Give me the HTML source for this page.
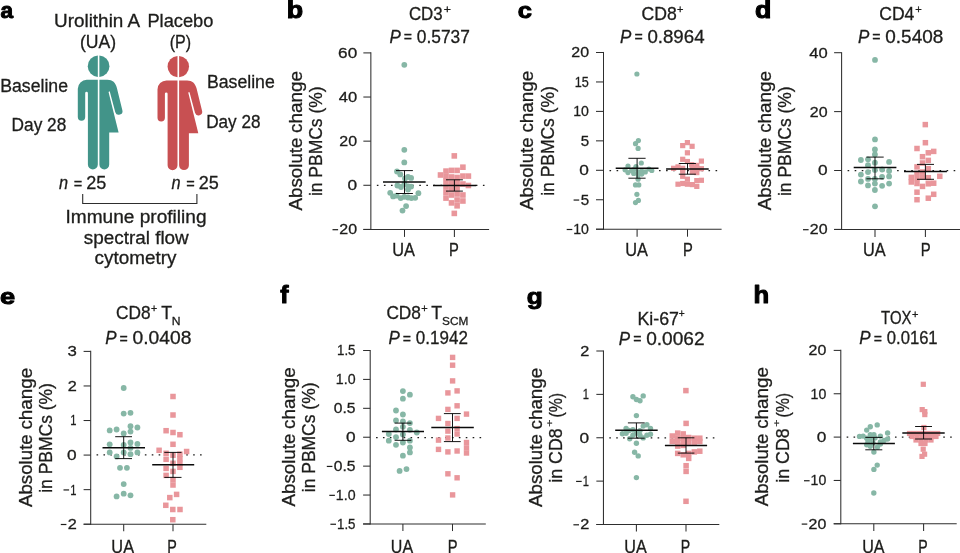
<!DOCTYPE html>
<html><head><meta charset="utf-8"><title>Figure</title>
<style>html,body{margin:0;padding:0;background:#fff;}svg{display:block;font-family:"Liberation Sans",sans-serif;will-change:transform;}text{white-space:pre;}</style></head>
<body>
<svg width="960" height="553" viewBox="0 0 960 553">
<g transform="translate(0 0)" fill="#429489">
<path d="M97.8,55.38 A10.85,10.85 0 0 0 97.8,77.02 Z"/>
<path d="M99.4,55.38 A10.85,10.85 0 0 1 99.4,77.02 Z"/>
<path d="M97.8,79.8 H86.8 A9,9 0 0 0 77.8,88.8 V117.1 A3.7,3.7 0 0 0 85.2,117.1 V93.2 A1.35,1.35 0 0 1 87.9,93.2 V164.6 A4.95,4.95 0 0 0 97.8,164.6 Z"/>
<path d="M99.4,79.8 H107.4 C112.6,79.8 115.6,82.6 116.9,88.0 L122.3,110.0 A3.65,3.65 0 0 1 115.3,112.2 L109.9,92.0 Q109.3,90.6 108.6,92.2 L118.6,132.6 H109.2 V164.6 A4.9,4.9 0 0 1 99.4,164.6 Z"/>
</g>
<g transform="translate(79.7 0.6)" fill="#c85052">
<path d="M97.8,55.28 A10.75,10.75 0 0 0 97.8,76.72 Z"/>
<path d="M99.4,55.28 A10.75,10.75 0 0 1 99.4,76.72 Z"/>
<path d="M97.8,79.8 H86.8 A9,9 0 0 0 77.8,88.8 V117.1 A3.7,3.7 0 0 0 85.2,117.1 V93.2 A1.35,1.35 0 0 1 87.9,93.2 V164.6 A4.95,4.95 0 0 0 97.8,164.6 Z"/>
<path d="M99.4,79.8 H107.4 C112.6,79.8 115.6,82.6 116.9,88.0 L122.3,110.0 A3.65,3.65 0 0 1 115.3,112.2 L109.9,92.0 Q109.3,90.6 108.6,92.2 L118.6,132.6 H109.2 V164.6 A4.9,4.9 0 0 1 99.4,164.6 Z"/>
</g>
<text transform="translate(0.42 18.08) scale(0.9057 0.8945)" font-size="25" font-weight="bold" fill="#000" stroke="#000" stroke-width="1.1" stroke-linejoin="round">a</text>
<text transform="translate(54.04 27.00) scale(1.0741 1.0000)" font-size="17.6" fill="#1d1d1b" stroke="#1d1d1b" stroke-width="0.3">Urolithin A</text>
<text transform="translate(79.99 47.80) scale(1.0009 1.0000)" font-size="17.6" fill="#1d1d1b" stroke="#1d1d1b" stroke-width="0.3">(UA)</text>
<text transform="translate(147.39 27.00) scale(1.0387 1.0000)" font-size="17.6" fill="#1d1d1b" stroke="#1d1d1b" stroke-width="0.3">Placebo</text>
<text transform="translate(169.69 47.80) scale(0.9110 1.0000)" font-size="17.6" fill="#1d1d1b" stroke="#1d1d1b" stroke-width="0.3">(P)</text>
<text transform="translate(0.24 91.90) scale(1.0047 1.0000)" font-size="17.6" fill="#1d1d1b" stroke="#1d1d1b" stroke-width="0.3">Baseline</text>
<text transform="translate(11.57 130.50) scale(0.9812 1.0000)" font-size="17.6" fill="#1d1d1b" stroke="#1d1d1b" stroke-width="0.3">Day 28</text>
<text transform="translate(206.93 88.40) scale(1.0062 1.0000)" font-size="17.6" fill="#1d1d1b" stroke="#1d1d1b" stroke-width="0.3">Baseline</text>
<text transform="translate(206.18 127.80) scale(0.9756 1.0000)" font-size="17.6" fill="#1d1d1b" stroke="#1d1d1b" stroke-width="0.3">Day 28</text>
<text transform="translate(59.02 189.35) scale(0.9276 1.0000)" font-size="17.6" font-style="italic" fill="#1d1d1b" stroke="#1d1d1b" stroke-width="0.3">n</text>
<text transform="translate(73.82 189.37) scale(0.8286 0.9411)" font-size="17.6" fill="#1d1d1b" stroke="#1d1d1b" stroke-width="0.3">=</text>
<text transform="translate(86.15 189.35) scale(1.0250 1.0000)" font-size="17.6" fill="#1d1d1b" stroke="#1d1d1b" stroke-width="0.3">25</text>
<text transform="translate(171.52 189.35) scale(0.9276 1.0000)" font-size="17.6" font-style="italic" fill="#1d1d1b" stroke="#1d1d1b" stroke-width="0.3">n</text>
<text transform="translate(186.32 189.37) scale(0.8286 0.9411)" font-size="17.6" fill="#1d1d1b" stroke="#1d1d1b" stroke-width="0.3">=</text>
<text transform="translate(198.65 189.35) scale(1.0250 1.0000)" font-size="17.6" fill="#1d1d1b" stroke="#1d1d1b" stroke-width="0.3">25</text>
<path d="M82.7,194.0 V203.5 H196.9 V194.0" fill="none" stroke="#2e2e2e" stroke-width="1.1"/>
<text transform="translate(65.53 223.25) scale(1.0846 1.0000)" font-size="17.6" fill="#1d1d1b" stroke="#1d1d1b" stroke-width="0.3">Immune profiling</text>
<text transform="translate(83.78 244.10) scale(1.0737 1.0000)" font-size="17.6" fill="#1d1d1b" stroke="#1d1d1b" stroke-width="0.3">spectral flow</text>
<text transform="translate(94.59 264.20) scale(1.0728 1.0000)" font-size="17.6" fill="#1d1d1b" stroke="#1d1d1b" stroke-width="0.3">cytometry</text>
<line x1="376.85" y1="185.30" x2="484.50" y2="185.30" stroke="#1d1d1b" stroke-width="1.25" stroke-dasharray="1.6 5.47"/>
<circle cx="404.3" cy="64.8" r="2.9" fill="#87b7a6"/>
<circle cx="404.3" cy="149.8" r="2.9" fill="#87b7a6"/>
<circle cx="404.3" cy="162.4" r="2.9" fill="#87b7a6"/>
<circle cx="397.0" cy="171.5" r="2.9" fill="#87b7a6"/>
<circle cx="400.3" cy="174.4" r="2.9" fill="#87b7a6"/>
<circle cx="408.0" cy="176.9" r="2.9" fill="#87b7a6"/>
<circle cx="411.1" cy="177.9" r="2.9" fill="#87b7a6"/>
<circle cx="405.0" cy="178.5" r="2.9" fill="#87b7a6"/>
<circle cx="397.4" cy="185.5" r="2.9" fill="#87b7a6"/>
<circle cx="401.0" cy="187.0" r="2.9" fill="#87b7a6"/>
<circle cx="408.3" cy="186.3" r="2.9" fill="#87b7a6"/>
<circle cx="411.1" cy="186.6" r="2.9" fill="#87b7a6"/>
<circle cx="404.5" cy="184.0" r="2.9" fill="#87b7a6"/>
<circle cx="408.0" cy="189.5" r="2.9" fill="#87b7a6"/>
<circle cx="390.2" cy="192.8" r="2.9" fill="#87b7a6"/>
<circle cx="418.4" cy="193.2" r="2.9" fill="#87b7a6"/>
<circle cx="393.1" cy="196.4" r="2.9" fill="#87b7a6"/>
<circle cx="396.7" cy="195.7" r="2.9" fill="#87b7a6"/>
<circle cx="400.7" cy="198.1" r="2.9" fill="#87b7a6"/>
<circle cx="404.3" cy="196.8" r="2.9" fill="#87b7a6"/>
<circle cx="408.0" cy="197.5" r="2.9" fill="#87b7a6"/>
<circle cx="411.4" cy="198.1" r="2.9" fill="#87b7a6"/>
<circle cx="415.2" cy="197.8" r="2.9" fill="#87b7a6"/>
<circle cx="406.1" cy="206.1" r="2.9" fill="#87b7a6"/>
<circle cx="402.5" cy="210.6" r="2.9" fill="#87b7a6"/>
<rect x="451.50" y="153.10" width="5.6" height="5.6" fill="#e9969b"/>
<rect x="460.10" y="164.40" width="5.6" height="5.6" fill="#e9969b"/>
<rect x="443.20" y="168.30" width="5.6" height="5.6" fill="#e9969b"/>
<rect x="448.70" y="167.60" width="5.6" height="5.6" fill="#e9969b"/>
<rect x="454.30" y="167.60" width="5.6" height="5.6" fill="#e9969b"/>
<rect x="437.70" y="172.20" width="5.6" height="5.6" fill="#e9969b"/>
<rect x="443.20" y="173.70" width="5.6" height="5.6" fill="#e9969b"/>
<rect x="448.70" y="174.20" width="5.6" height="5.6" fill="#e9969b"/>
<rect x="454.30" y="174.70" width="5.6" height="5.6" fill="#e9969b"/>
<rect x="460.10" y="173.30" width="5.6" height="5.6" fill="#e9969b"/>
<rect x="465.60" y="173.30" width="5.6" height="5.6" fill="#e9969b"/>
<rect x="443.20" y="178.70" width="5.6" height="5.6" fill="#e9969b"/>
<rect x="448.70" y="180.20" width="5.6" height="5.6" fill="#e9969b"/>
<rect x="454.30" y="179.70" width="5.6" height="5.6" fill="#e9969b"/>
<rect x="460.10" y="181.20" width="5.6" height="5.6" fill="#e9969b"/>
<rect x="465.60" y="182.70" width="5.6" height="5.6" fill="#e9969b"/>
<rect x="443.20" y="184.20" width="5.6" height="5.6" fill="#e9969b"/>
<rect x="448.70" y="186.20" width="5.6" height="5.6" fill="#e9969b"/>
<rect x="454.30" y="185.20" width="5.6" height="5.6" fill="#e9969b"/>
<rect x="443.20" y="189.70" width="5.6" height="5.6" fill="#e9969b"/>
<rect x="448.70" y="192.20" width="5.6" height="5.6" fill="#e9969b"/>
<rect x="454.30" y="191.20" width="5.6" height="5.6" fill="#e9969b"/>
<rect x="460.10" y="192.20" width="5.6" height="5.6" fill="#e9969b"/>
<rect x="443.20" y="195.30" width="5.6" height="5.6" fill="#e9969b"/>
<rect x="454.30" y="197.20" width="5.6" height="5.6" fill="#e9969b"/>
<rect x="460.10" y="198.20" width="5.6" height="5.6" fill="#e9969b"/>
<rect x="448.70" y="200.10" width="5.6" height="5.6" fill="#e9969b"/>
<rect x="454.30" y="203.00" width="5.6" height="5.6" fill="#e9969b"/>
<rect x="451.50" y="210.60" width="5.6" height="5.6" fill="#e9969b"/>
<line x1="383.00" y1="182.10" x2="425.60" y2="182.10" stroke="#0a0a0a" stroke-width="1.5"/>
<line x1="404.50" y1="170.60" x2="404.50" y2="193.50" stroke="#080808" stroke-width="0.95"/>
<line x1="396.00" y1="170.60" x2="412.90" y2="170.60" stroke="#080808" stroke-width="0.95"/>
<line x1="396.00" y1="193.50" x2="412.90" y2="193.50" stroke="#080808" stroke-width="0.95"/>
<line x1="433.00" y1="185.50" x2="476.20" y2="185.50" stroke="#0a0a0a" stroke-width="1.5"/>
<line x1="454.40" y1="179.80" x2="454.40" y2="191.10" stroke="#080808" stroke-width="0.95"/>
<line x1="446.00" y1="179.80" x2="462.90" y2="179.80" stroke="#080808" stroke-width="0.95"/>
<line x1="446.00" y1="191.10" x2="462.90" y2="191.10" stroke="#080808" stroke-width="0.95"/>
<line x1="370.85" y1="52.35" x2="370.85" y2="229.95" stroke="#2e2e2e" stroke-width="1.05"/>
<line x1="363.35" y1="229.40" x2="489.10" y2="229.40" stroke="#2e2e2e" stroke-width="1.05"/>
<line x1="363.35" y1="52.90" x2="370.85" y2="52.90" stroke="#2e2e2e" stroke-width="1.05"/>
<text transform="translate(338.09 57.80) scale(1.1438 1.0000)" font-size="15.0" fill="#1d1d1b" stroke="#1d1d1b" stroke-width="0.3">60</text>
<line x1="363.35" y1="97.03" x2="370.85" y2="97.03" stroke="#2e2e2e" stroke-width="1.05"/>
<text transform="translate(338.72 101.93) scale(1.1048 1.0000)" font-size="15.0" fill="#1d1d1b" stroke="#1d1d1b" stroke-width="0.3">40</text>
<line x1="363.35" y1="141.15" x2="370.85" y2="141.15" stroke="#2e2e2e" stroke-width="1.05"/>
<text transform="translate(339.35 146.05) scale(1.0654 1.0000)" font-size="15.0" fill="#1d1d1b" stroke="#1d1d1b" stroke-width="0.3">20</text>
<line x1="363.35" y1="185.28" x2="370.85" y2="185.28" stroke="#2e2e2e" stroke-width="1.05"/>
<text transform="translate(347.46 190.18) scale(1.1528 1.0000)" font-size="15.0" fill="#1d1d1b" stroke="#1d1d1b" stroke-width="0.3">0</text>
<line x1="363.35" y1="229.40" x2="370.85" y2="229.40" stroke="#2e2e2e" stroke-width="1.05"/>
<text transform="translate(339.35 234.30) scale(1.0654 1.0000)" font-size="15.0" fill="#1d1d1b" stroke="#1d1d1b" stroke-width="0.3">20</text>
<rect x="332.50" y="229.10" width="5.6" height="1.2" fill="#1d1d1b"/>
<line x1="404.50" y1="229.40" x2="404.50" y2="236.90" stroke="#2e2e2e" stroke-width="1.05"/>
<line x1="454.40" y1="229.40" x2="454.40" y2="236.90" stroke="#2e2e2e" stroke-width="1.05"/>
<text transform="translate(392.14 256.10) scale(0.9282 1.0000)" font-size="17.6" fill="#1d1d1b" stroke="#1d1d1b" stroke-width="0.3">UA</text>
<text transform="translate(449.07 256.10) scale(0.8362 1.0000)" font-size="17.6" fill="#1d1d1b" stroke="#1d1d1b" stroke-width="0.3">P</text>
<text transform="translate(302.00 210.40) rotate(-90) scale(1.0633 1.0000)" font-size="17.6" fill="#1d1d1b" stroke="#1d1d1b" stroke-width="0.3">Absolute</text>
<text transform="translate(302.00 132.90) rotate(-90) scale(1.0698 1.0000)" font-size="17.6" fill="#1d1d1b" stroke="#1d1d1b" stroke-width="0.3">change</text>
<text transform="translate(322.20 196.12) rotate(-90) scale(0.9932 1.0000)" font-size="17.6" fill="#1d1d1b" stroke="#1d1d1b" stroke-width="0.3">in PBMCs (%)</text>
<text transform="translate(408.91 20.20) scale(0.9579 1.0000)" font-size="17.6" fill="#1d1d1b" stroke="#1d1d1b" stroke-width="0.3">CD3</text>
<text transform="translate(443.74 13.26) scale(1.1174 1.0204)" font-size="11" fill="#1d1d1b" stroke="#1d1d1b" stroke-width="0.3">+</text>
<text transform="translate(389.44 42.70) scale(0.9650 1.0000)" font-size="17.6" font-style="italic" fill="#1d1d1b" stroke="#1d1d1b" stroke-width="0.3">P</text>
<text transform="translate(403.84 42.47) scale(0.8049 0.9411)" font-size="17.6" fill="#1d1d1b" stroke="#1d1d1b" stroke-width="0.3">=</text>
<text transform="translate(416.86 42.70) scale(0.9852 1.0000)" font-size="17.6" fill="#1d1d1b" stroke="#1d1d1b" stroke-width="0.3">0.5737</text>
<text transform="translate(286.72 18.10) scale(1.0720 0.9808)" font-size="25" font-weight="bold" fill="#000" stroke="#000" stroke-width="1.1" stroke-linejoin="round">b</text>
<line x1="609.50" y1="170.50" x2="717.15" y2="170.50" stroke="#1d1d1b" stroke-width="1.25" stroke-dasharray="1.6 5.47"/>
<circle cx="636.9" cy="74.0" r="2.6" fill="#87b7a6"/>
<circle cx="638.4" cy="140.6" r="2.6" fill="#87b7a6"/>
<circle cx="635.5" cy="143.7" r="2.6" fill="#87b7a6"/>
<circle cx="638.1" cy="148.4" r="2.6" fill="#87b7a6"/>
<circle cx="641.3" cy="163.0" r="2.6" fill="#87b7a6"/>
<circle cx="628.0" cy="166.1" r="2.6" fill="#87b7a6"/>
<circle cx="625.1" cy="169.8" r="2.6" fill="#87b7a6"/>
<circle cx="628.0" cy="172.6" r="2.6" fill="#87b7a6"/>
<circle cx="631.6" cy="170.5" r="2.6" fill="#87b7a6"/>
<circle cx="634.5" cy="169.0" r="2.6" fill="#87b7a6"/>
<circle cx="638.1" cy="171.9" r="2.6" fill="#87b7a6"/>
<circle cx="641.7" cy="171.2" r="2.6" fill="#87b7a6"/>
<circle cx="645.3" cy="171.9" r="2.6" fill="#87b7a6"/>
<circle cx="648.9" cy="169.0" r="2.6" fill="#87b7a6"/>
<circle cx="651.8" cy="170.5" r="2.6" fill="#87b7a6"/>
<circle cx="633.7" cy="173.4" r="2.6" fill="#87b7a6"/>
<circle cx="638.1" cy="174.8" r="2.6" fill="#87b7a6"/>
<circle cx="641.7" cy="174.1" r="2.6" fill="#87b7a6"/>
<circle cx="638.1" cy="179.2" r="2.6" fill="#87b7a6"/>
<circle cx="635.5" cy="184.9" r="2.6" fill="#87b7a6"/>
<circle cx="638.8" cy="184.9" r="2.6" fill="#87b7a6"/>
<circle cx="636.9" cy="194.3" r="2.6" fill="#87b7a6"/>
<circle cx="638.4" cy="200.4" r="2.6" fill="#87b7a6"/>
<circle cx="635.5" cy="202.6" r="2.6" fill="#87b7a6"/>
<circle cx="636.0" cy="166.5" r="2.6" fill="#87b7a6"/>
<rect x="684.80" y="140.00" width="5.2" height="5.2" fill="#e9969b"/>
<rect x="680.10" y="143.00" width="5.2" height="5.2" fill="#e9969b"/>
<rect x="689.50" y="143.70" width="5.2" height="5.2" fill="#e9969b"/>
<rect x="684.80" y="150.20" width="5.2" height="5.2" fill="#e9969b"/>
<rect x="680.10" y="156.70" width="5.2" height="5.2" fill="#e9969b"/>
<rect x="684.80" y="158.90" width="5.2" height="5.2" fill="#e9969b"/>
<rect x="698.80" y="158.50" width="5.2" height="5.2" fill="#e9969b"/>
<rect x="689.10" y="162.10" width="5.2" height="5.2" fill="#e9969b"/>
<rect x="694.20" y="162.80" width="5.2" height="5.2" fill="#e9969b"/>
<rect x="675.40" y="164.30" width="5.2" height="5.2" fill="#e9969b"/>
<rect x="671.00" y="165.70" width="5.2" height="5.2" fill="#e9969b"/>
<rect x="680.10" y="165.70" width="5.2" height="5.2" fill="#e9969b"/>
<rect x="689.80" y="165.70" width="5.2" height="5.2" fill="#e9969b"/>
<rect x="694.20" y="165.70" width="5.2" height="5.2" fill="#e9969b"/>
<rect x="698.80" y="166.10" width="5.2" height="5.2" fill="#e9969b"/>
<rect x="680.10" y="168.60" width="5.2" height="5.2" fill="#e9969b"/>
<rect x="689.80" y="169.30" width="5.2" height="5.2" fill="#e9969b"/>
<rect x="694.20" y="170.00" width="5.2" height="5.2" fill="#e9969b"/>
<rect x="680.10" y="173.70" width="5.2" height="5.2" fill="#e9969b"/>
<rect x="684.80" y="176.60" width="5.2" height="5.2" fill="#e9969b"/>
<rect x="698.80" y="177.70" width="5.2" height="5.2" fill="#e9969b"/>
<rect x="694.20" y="178.00" width="5.2" height="5.2" fill="#e9969b"/>
<rect x="675.40" y="181.60" width="5.2" height="5.2" fill="#e9969b"/>
<rect x="680.10" y="180.90" width="5.2" height="5.2" fill="#e9969b"/>
<rect x="684.80" y="181.60" width="5.2" height="5.2" fill="#e9969b"/>
<rect x="689.80" y="182.00" width="5.2" height="5.2" fill="#e9969b"/>
<rect x="694.20" y="183.80" width="5.2" height="5.2" fill="#e9969b"/>
<line x1="615.70" y1="168.30" x2="658.50" y2="168.30" stroke="#0a0a0a" stroke-width="1.5"/>
<line x1="637.10" y1="158.30" x2="637.10" y2="178.20" stroke="#080808" stroke-width="0.95"/>
<line x1="628.40" y1="158.30" x2="645.60" y2="158.30" stroke="#080808" stroke-width="0.95"/>
<line x1="628.40" y1="178.20" x2="645.60" y2="178.20" stroke="#080808" stroke-width="0.95"/>
<line x1="666.10" y1="169.00" x2="708.70" y2="169.00" stroke="#0a0a0a" stroke-width="1.5"/>
<line x1="687.50" y1="163.50" x2="687.50" y2="174.20" stroke="#080808" stroke-width="0.95"/>
<line x1="678.80" y1="163.50" x2="695.90" y2="163.50" stroke="#080808" stroke-width="0.95"/>
<line x1="678.80" y1="174.20" x2="695.90" y2="174.20" stroke="#080808" stroke-width="0.95"/>
<line x1="603.50" y1="51.95" x2="603.50" y2="229.75" stroke="#2e2e2e" stroke-width="1.05"/>
<line x1="596.00" y1="229.20" x2="721.60" y2="229.20" stroke="#2e2e2e" stroke-width="1.05"/>
<line x1="596.00" y1="52.50" x2="603.50" y2="52.50" stroke="#2e2e2e" stroke-width="1.05"/>
<text transform="translate(571.25 57.40) scale(1.0654 1.0000)" font-size="15.0" fill="#1d1d1b" stroke="#1d1d1b" stroke-width="0.3">20</text>
<line x1="596.00" y1="81.95" x2="603.50" y2="81.95" stroke="#2e2e2e" stroke-width="1.05"/>
<text transform="translate(574.84 86.85) scale(0.8418 1.0000)" font-size="15.0" fill="#1d1d1b" stroke="#1d1d1b" stroke-width="0.3">15</text>
<line x1="596.00" y1="111.40" x2="603.50" y2="111.40" stroke="#2e2e2e" stroke-width="1.05"/>
<text transform="translate(573.22 116.30) scale(0.9428 1.0000)" font-size="15.0" fill="#1d1d1b" stroke="#1d1d1b" stroke-width="0.3">10</text>
<line x1="596.00" y1="140.85" x2="603.50" y2="140.85" stroke="#2e2e2e" stroke-width="1.05"/>
<text transform="translate(580.65 145.75) scale(1.0071 1.0000)" font-size="15.0" fill="#1d1d1b" stroke="#1d1d1b" stroke-width="0.3">5</text>
<line x1="596.00" y1="170.30" x2="603.50" y2="170.30" stroke="#2e2e2e" stroke-width="1.05"/>
<text transform="translate(579.36 175.20) scale(1.1528 1.0000)" font-size="15.0" fill="#1d1d1b" stroke="#1d1d1b" stroke-width="0.3">0</text>
<line x1="596.00" y1="199.75" x2="603.50" y2="199.75" stroke="#2e2e2e" stroke-width="1.05"/>
<text transform="translate(580.65 204.65) scale(1.0071 1.0000)" font-size="15.0" fill="#1d1d1b" stroke="#1d1d1b" stroke-width="0.3">5</text>
<rect x="573.60" y="199.45" width="5.6" height="1.2" fill="#1d1d1b"/>
<line x1="596.00" y1="229.20" x2="603.50" y2="229.20" stroke="#2e2e2e" stroke-width="1.05"/>
<text transform="translate(573.22 234.10) scale(0.9428 1.0000)" font-size="15.0" fill="#1d1d1b" stroke="#1d1d1b" stroke-width="0.3">10</text>
<rect x="566.70" y="228.90" width="5.6" height="1.2" fill="#1d1d1b"/>
<line x1="637.10" y1="229.20" x2="637.10" y2="236.70" stroke="#2e2e2e" stroke-width="1.05"/>
<line x1="687.50" y1="229.20" x2="687.50" y2="236.70" stroke="#2e2e2e" stroke-width="1.05"/>
<text transform="translate(625.24 256.10) scale(0.9282 1.0000)" font-size="17.6" fill="#1d1d1b" stroke="#1d1d1b" stroke-width="0.3">UA</text>
<text transform="translate(683.07 256.10) scale(0.8362 1.0000)" font-size="17.6" fill="#1d1d1b" stroke="#1d1d1b" stroke-width="0.3">P</text>
<text transform="translate(533.30 210.10) rotate(-90) scale(1.0633 1.0000)" font-size="17.6" fill="#1d1d1b" stroke="#1d1d1b" stroke-width="0.3">Absolute</text>
<text transform="translate(533.30 132.60) rotate(-90) scale(1.0698 1.0000)" font-size="17.6" fill="#1d1d1b" stroke="#1d1d1b" stroke-width="0.3">change</text>
<text transform="translate(553.70 195.82) rotate(-90) scale(0.9932 1.0000)" font-size="17.6" fill="#1d1d1b" stroke="#1d1d1b" stroke-width="0.3">in PBMCs (%)</text>
<text transform="translate(641.57 20.20) scale(1.0010 1.0000)" font-size="17.6" fill="#1d1d1b" stroke="#1d1d1b" stroke-width="0.3">CD8</text>
<text transform="translate(676.90 13.26) scale(1.0038 1.0204)" font-size="11" fill="#1d1d1b" stroke="#1d1d1b" stroke-width="0.3">+</text>
<text transform="translate(620.04 42.70) scale(0.9650 1.0000)" font-size="17.6" font-style="italic" fill="#1d1d1b" stroke="#1d1d1b" stroke-width="0.3">P</text>
<text transform="translate(634.44 42.47) scale(0.8049 0.9411)" font-size="17.6" fill="#1d1d1b" stroke="#1d1d1b" stroke-width="0.3">=</text>
<text transform="translate(647.40 42.70) scale(1.0623 1.0000)" font-size="17.6" fill="#1d1d1b" stroke="#1d1d1b" stroke-width="0.3">0.8964</text>
<text transform="translate(517.78 18.07) scale(1.0204 0.9091)" font-size="25" font-weight="bold" fill="#000" stroke="#000" stroke-width="1.1" stroke-linejoin="round">c</text>
<line x1="847.60" y1="170.60" x2="955.25" y2="170.60" stroke="#1d1d1b" stroke-width="1.25" stroke-dasharray="1.6 5.47"/>
<circle cx="875.0" cy="59.9" r="2.9" fill="#87b7a6"/>
<circle cx="875.0" cy="139.4" r="2.9" fill="#87b7a6"/>
<circle cx="874.9" cy="149.5" r="2.9" fill="#87b7a6"/>
<circle cx="874.9" cy="154.5" r="2.9" fill="#87b7a6"/>
<circle cx="860.9" cy="160.0" r="2.9" fill="#87b7a6"/>
<circle cx="868.0" cy="159.3" r="2.9" fill="#87b7a6"/>
<circle cx="889.1" cy="161.9" r="2.9" fill="#87b7a6"/>
<circle cx="874.9" cy="162.7" r="2.9" fill="#87b7a6"/>
<circle cx="868.0" cy="165.2" r="2.9" fill="#87b7a6"/>
<circle cx="882.1" cy="169.5" r="2.9" fill="#87b7a6"/>
<circle cx="889.1" cy="171.0" r="2.9" fill="#87b7a6"/>
<circle cx="874.9" cy="169.9" r="2.9" fill="#87b7a6"/>
<circle cx="868.0" cy="172.1" r="2.9" fill="#87b7a6"/>
<circle cx="860.9" cy="174.6" r="2.9" fill="#87b7a6"/>
<circle cx="889.1" cy="176.4" r="2.9" fill="#87b7a6"/>
<circle cx="882.1" cy="176.8" r="2.9" fill="#87b7a6"/>
<circle cx="868.0" cy="178.9" r="2.9" fill="#87b7a6"/>
<circle cx="874.9" cy="178.9" r="2.9" fill="#87b7a6"/>
<circle cx="860.9" cy="181.5" r="2.9" fill="#87b7a6"/>
<circle cx="874.9" cy="183.6" r="2.9" fill="#87b7a6"/>
<circle cx="889.1" cy="183.6" r="2.9" fill="#87b7a6"/>
<circle cx="868.0" cy="185.4" r="2.9" fill="#87b7a6"/>
<circle cx="882.1" cy="185.8" r="2.9" fill="#87b7a6"/>
<circle cx="874.9" cy="190.0" r="2.9" fill="#87b7a6"/>
<circle cx="875.0" cy="206.3" r="2.9" fill="#87b7a6"/>
<rect x="922.55" y="121.85" width="5.5" height="5.5" fill="#e9969b"/>
<rect x="922.65" y="139.95" width="5.5" height="5.5" fill="#e9969b"/>
<rect x="914.25" y="145.75" width="5.5" height="5.5" fill="#e9969b"/>
<rect x="930.95" y="148.65" width="5.5" height="5.5" fill="#e9969b"/>
<rect x="925.55" y="150.05" width="5.5" height="5.5" fill="#e9969b"/>
<rect x="919.75" y="153.95" width="5.5" height="5.5" fill="#e9969b"/>
<rect x="925.55" y="157.65" width="5.5" height="5.5" fill="#e9969b"/>
<rect x="919.75" y="160.25" width="5.5" height="5.5" fill="#e9969b"/>
<rect x="914.25" y="164.15" width="5.5" height="5.5" fill="#e9969b"/>
<rect x="925.55" y="165.95" width="5.5" height="5.5" fill="#e9969b"/>
<rect x="919.75" y="169.25" width="5.5" height="5.5" fill="#e9969b"/>
<rect x="914.25" y="170.65" width="5.5" height="5.5" fill="#e9969b"/>
<rect x="937.05" y="173.55" width="5.5" height="5.5" fill="#e9969b"/>
<rect x="908.55" y="174.65" width="5.5" height="5.5" fill="#e9969b"/>
<rect x="908.55" y="179.25" width="5.5" height="5.5" fill="#e9969b"/>
<rect x="914.25" y="175.65" width="5.5" height="5.5" fill="#e9969b"/>
<rect x="914.25" y="180.75" width="5.5" height="5.5" fill="#e9969b"/>
<rect x="919.75" y="174.25" width="5.5" height="5.5" fill="#e9969b"/>
<rect x="919.75" y="183.65" width="5.5" height="5.5" fill="#e9969b"/>
<rect x="925.55" y="174.95" width="5.5" height="5.5" fill="#e9969b"/>
<rect x="925.55" y="181.05" width="5.5" height="5.5" fill="#e9969b"/>
<rect x="930.95" y="180.45" width="5.5" height="5.5" fill="#e9969b"/>
<rect x="914.25" y="189.45" width="5.5" height="5.5" fill="#e9969b"/>
<rect x="930.95" y="191.55" width="5.5" height="5.5" fill="#e9969b"/>
<rect x="925.55" y="195.45" width="5.5" height="5.5" fill="#e9969b"/>
<rect x="914.25" y="196.95" width="5.5" height="5.5" fill="#e9969b"/>
<line x1="853.70" y1="167.60" x2="896.40" y2="167.60" stroke="#0a0a0a" stroke-width="1.5"/>
<line x1="875.00" y1="157.10" x2="875.00" y2="178.80" stroke="#080808" stroke-width="0.95"/>
<line x1="866.40" y1="157.10" x2="883.70" y2="157.10" stroke="#080808" stroke-width="0.95"/>
<line x1="866.40" y1="178.80" x2="883.70" y2="178.80" stroke="#080808" stroke-width="0.95"/>
<line x1="904.00" y1="171.40" x2="946.90" y2="171.40" stroke="#0a0a0a" stroke-width="1.5"/>
<line x1="925.40" y1="164.40" x2="925.40" y2="179.30" stroke="#080808" stroke-width="0.95"/>
<line x1="917.00" y1="164.40" x2="934.00" y2="164.40" stroke="#080808" stroke-width="0.95"/>
<line x1="917.00" y1="179.30" x2="934.00" y2="179.30" stroke="#080808" stroke-width="0.95"/>
<line x1="841.60" y1="52.15" x2="841.60" y2="229.95" stroke="#2e2e2e" stroke-width="1.05"/>
<line x1="834.10" y1="229.40" x2="960.00" y2="229.40" stroke="#2e2e2e" stroke-width="1.05"/>
<line x1="834.10" y1="52.70" x2="841.60" y2="52.70" stroke="#2e2e2e" stroke-width="1.05"/>
<text transform="translate(809.22 57.60) scale(1.1048 1.0000)" font-size="15.0" fill="#1d1d1b" stroke="#1d1d1b" stroke-width="0.3">40</text>
<line x1="834.10" y1="111.60" x2="841.60" y2="111.60" stroke="#2e2e2e" stroke-width="1.05"/>
<text transform="translate(809.85 116.50) scale(1.0654 1.0000)" font-size="15.0" fill="#1d1d1b" stroke="#1d1d1b" stroke-width="0.3">20</text>
<line x1="834.10" y1="170.50" x2="841.60" y2="170.50" stroke="#2e2e2e" stroke-width="1.05"/>
<text transform="translate(817.96 175.40) scale(1.1528 1.0000)" font-size="15.0" fill="#1d1d1b" stroke="#1d1d1b" stroke-width="0.3">0</text>
<line x1="834.10" y1="229.40" x2="841.60" y2="229.40" stroke="#2e2e2e" stroke-width="1.05"/>
<text transform="translate(809.85 234.30) scale(1.0654 1.0000)" font-size="15.0" fill="#1d1d1b" stroke="#1d1d1b" stroke-width="0.3">20</text>
<rect x="803.00" y="229.10" width="5.6" height="1.2" fill="#1d1d1b"/>
<line x1="875.00" y1="229.40" x2="875.00" y2="236.90" stroke="#2e2e2e" stroke-width="1.05"/>
<line x1="925.40" y1="229.40" x2="925.40" y2="236.90" stroke="#2e2e2e" stroke-width="1.05"/>
<text transform="translate(863.04 256.10) scale(0.9282 1.0000)" font-size="17.6" fill="#1d1d1b" stroke="#1d1d1b" stroke-width="0.3">UA</text>
<text transform="translate(920.76 256.10) scale(0.8469 1.0000)" font-size="17.6" fill="#1d1d1b" stroke="#1d1d1b" stroke-width="0.3">P</text>
<text transform="translate(770.60 210.30) rotate(-90) scale(1.0633 1.0000)" font-size="17.6" fill="#1d1d1b" stroke="#1d1d1b" stroke-width="0.3">Absolute</text>
<text transform="translate(770.60 132.80) rotate(-90) scale(1.0698 1.0000)" font-size="17.6" fill="#1d1d1b" stroke="#1d1d1b" stroke-width="0.3">change</text>
<text transform="translate(790.90 196.02) rotate(-90) scale(0.9932 1.0000)" font-size="17.6" fill="#1d1d1b" stroke="#1d1d1b" stroke-width="0.3">in PBMCs (%)</text>
<text transform="translate(879.27 20.20) scale(0.9973 1.0000)" font-size="17.6" fill="#1d1d1b" stroke="#1d1d1b" stroke-width="0.3">CD4</text>
<text transform="translate(915.19 13.26) scale(1.0133 1.0204)" font-size="11" fill="#1d1d1b" stroke="#1d1d1b" stroke-width="0.3">+</text>
<text transform="translate(857.94 42.70) scale(0.9650 1.0000)" font-size="17.6" font-style="italic" fill="#1d1d1b" stroke="#1d1d1b" stroke-width="0.3">P</text>
<text transform="translate(872.34 42.47) scale(0.8049 0.9411)" font-size="17.6" fill="#1d1d1b" stroke="#1d1d1b" stroke-width="0.3">=</text>
<text transform="translate(885.29 42.70) scale(1.0771 1.0000)" font-size="17.6" fill="#1d1d1b" stroke="#1d1d1b" stroke-width="0.3">0.5408</text>
<text transform="translate(754.93 18.10) scale(1.0720 0.9808)" font-size="25" font-weight="bold" fill="#000" stroke="#000" stroke-width="1.1" stroke-linejoin="round">d</text>
<line x1="96.55" y1="454.90" x2="201.65" y2="454.90" stroke="#1d1d1b" stroke-width="1.25" stroke-dasharray="1.6 5.30"/>
<circle cx="123.7" cy="388.0" r="2.9" fill="#87b7a6"/>
<circle cx="123.7" cy="413.6" r="2.9" fill="#87b7a6"/>
<circle cx="130.5" cy="412.8" r="2.9" fill="#87b7a6"/>
<circle cx="130.5" cy="426.2" r="2.9" fill="#87b7a6"/>
<circle cx="137.4" cy="427.5" r="2.9" fill="#87b7a6"/>
<circle cx="109.7" cy="430.4" r="2.9" fill="#87b7a6"/>
<circle cx="116.6" cy="429.5" r="2.9" fill="#87b7a6"/>
<circle cx="123.7" cy="433.5" r="2.9" fill="#87b7a6"/>
<circle cx="130.5" cy="431.6" r="2.9" fill="#87b7a6"/>
<circle cx="130.5" cy="442.5" r="2.9" fill="#87b7a6"/>
<circle cx="109.7" cy="444.3" r="2.9" fill="#87b7a6"/>
<circle cx="123.7" cy="444.8" r="2.9" fill="#87b7a6"/>
<circle cx="137.4" cy="443.9" r="2.9" fill="#87b7a6"/>
<circle cx="130.5" cy="447.9" r="2.9" fill="#87b7a6"/>
<circle cx="109.7" cy="452.4" r="2.9" fill="#87b7a6"/>
<circle cx="123.7" cy="452.4" r="2.9" fill="#87b7a6"/>
<circle cx="137.4" cy="452.4" r="2.9" fill="#87b7a6"/>
<circle cx="116.6" cy="456.4" r="2.9" fill="#87b7a6"/>
<circle cx="130.5" cy="454.2" r="2.9" fill="#87b7a6"/>
<circle cx="120.0" cy="467.8" r="2.9" fill="#87b7a6"/>
<circle cx="126.9" cy="467.8" r="2.9" fill="#87b7a6"/>
<circle cx="123.7" cy="484.1" r="2.9" fill="#87b7a6"/>
<circle cx="116.6" cy="496.4" r="2.9" fill="#87b7a6"/>
<circle cx="123.7" cy="493.7" r="2.9" fill="#87b7a6"/>
<circle cx="130.5" cy="495.3" r="2.9" fill="#87b7a6"/>
<rect x="170.25" y="393.75" width="5.5" height="5.5" fill="#e9969b"/>
<rect x="170.25" y="412.25" width="5.5" height="5.5" fill="#e9969b"/>
<rect x="163.35" y="427.95" width="5.5" height="5.5" fill="#e9969b"/>
<rect x="170.25" y="429.75" width="5.5" height="5.5" fill="#e9969b"/>
<rect x="177.15" y="431.95" width="5.5" height="5.5" fill="#e9969b"/>
<rect x="170.25" y="441.55" width="5.5" height="5.5" fill="#e9969b"/>
<rect x="156.35" y="447.55" width="5.5" height="5.5" fill="#e9969b"/>
<rect x="183.85" y="448.75" width="5.5" height="5.5" fill="#e9969b"/>
<rect x="163.35" y="450.55" width="5.5" height="5.5" fill="#e9969b"/>
<rect x="170.25" y="452.45" width="5.5" height="5.5" fill="#e9969b"/>
<rect x="177.15" y="451.45" width="5.5" height="5.5" fill="#e9969b"/>
<rect x="163.35" y="456.55" width="5.5" height="5.5" fill="#e9969b"/>
<rect x="177.15" y="456.05" width="5.5" height="5.5" fill="#e9969b"/>
<rect x="170.25" y="460.55" width="5.5" height="5.5" fill="#e9969b"/>
<rect x="177.15" y="460.55" width="5.5" height="5.5" fill="#e9969b"/>
<rect x="163.35" y="465.65" width="5.5" height="5.5" fill="#e9969b"/>
<rect x="177.15" y="464.55" width="5.5" height="5.5" fill="#e9969b"/>
<rect x="170.25" y="468.65" width="5.5" height="5.5" fill="#e9969b"/>
<rect x="163.35" y="472.65" width="5.5" height="5.5" fill="#e9969b"/>
<rect x="170.25" y="476.85" width="5.5" height="5.5" fill="#e9969b"/>
<rect x="170.25" y="482.25" width="5.5" height="5.5" fill="#e9969b"/>
<rect x="173.85" y="491.65" width="5.5" height="5.5" fill="#e9969b"/>
<rect x="167.05" y="494.85" width="5.5" height="5.5" fill="#e9969b"/>
<rect x="163.05" y="502.55" width="5.5" height="5.5" fill="#e9969b"/>
<rect x="170.05" y="506.75" width="5.5" height="5.5" fill="#e9969b"/>
<rect x="177.25" y="506.75" width="5.5" height="5.5" fill="#e9969b"/>
<rect x="170.05" y="516.95" width="5.5" height="5.5" fill="#e9969b"/>
<line x1="102.50" y1="447.70" x2="145.00" y2="447.70" stroke="#0a0a0a" stroke-width="1.5"/>
<line x1="123.70" y1="436.70" x2="123.70" y2="458.60" stroke="#080808" stroke-width="0.95"/>
<line x1="115.20" y1="436.70" x2="132.00" y2="436.70" stroke="#080808" stroke-width="0.95"/>
<line x1="115.20" y1="458.60" x2="132.00" y2="458.60" stroke="#080808" stroke-width="0.95"/>
<line x1="152.20" y1="464.70" x2="194.20" y2="464.70" stroke="#0a0a0a" stroke-width="1.5"/>
<line x1="173.00" y1="452.40" x2="173.00" y2="477.40" stroke="#080808" stroke-width="0.95"/>
<line x1="164.30" y1="452.40" x2="181.50" y2="452.40" stroke="#080808" stroke-width="0.95"/>
<line x1="164.30" y1="477.40" x2="181.50" y2="477.40" stroke="#080808" stroke-width="0.95"/>
<line x1="90.70" y1="350.85" x2="90.70" y2="524.75" stroke="#2e2e2e" stroke-width="1.05"/>
<line x1="83.60" y1="524.20" x2="206.30" y2="524.20" stroke="#2e2e2e" stroke-width="1.05"/>
<line x1="83.60" y1="351.40" x2="90.70" y2="351.40" stroke="#2e2e2e" stroke-width="1.05"/>
<text transform="translate(67.38 356.30) scale(1.1206 1.0000)" font-size="15.0" fill="#1d1d1b" stroke="#1d1d1b" stroke-width="0.3">3</text>
<line x1="83.60" y1="385.96" x2="90.70" y2="385.96" stroke="#2e2e2e" stroke-width="1.05"/>
<text transform="translate(67.63 390.86) scale(1.0870 1.0000)" font-size="15.0" fill="#1d1d1b" stroke="#1d1d1b" stroke-width="0.3">2</text>
<line x1="83.60" y1="420.52" x2="90.70" y2="420.52" stroke="#2e2e2e" stroke-width="1.05"/>
<text transform="translate(70.26 425.42) scale(0.7442 1.0000)" font-size="15.0" fill="#1d1d1b" stroke="#1d1d1b" stroke-width="0.3">1</text>
<line x1="83.60" y1="455.08" x2="90.70" y2="455.08" stroke="#2e2e2e" stroke-width="1.05"/>
<text transform="translate(66.96 459.98) scale(1.1528 1.0000)" font-size="15.0" fill="#1d1d1b" stroke="#1d1d1b" stroke-width="0.3">0</text>
<line x1="83.60" y1="489.64" x2="90.70" y2="489.64" stroke="#2e2e2e" stroke-width="1.05"/>
<text transform="translate(70.26 494.54) scale(0.7442 1.0000)" font-size="15.0" fill="#1d1d1b" stroke="#1d1d1b" stroke-width="0.3">1</text>
<rect x="63.50" y="489.34" width="5.6" height="1.2" fill="#1d1d1b"/>
<line x1="83.60" y1="524.20" x2="90.70" y2="524.20" stroke="#2e2e2e" stroke-width="1.05"/>
<text transform="translate(67.63 529.10) scale(1.0870 1.0000)" font-size="15.0" fill="#1d1d1b" stroke="#1d1d1b" stroke-width="0.3">2</text>
<rect x="60.80" y="523.90" width="5.6" height="1.2" fill="#1d1d1b"/>
<line x1="123.70" y1="524.20" x2="123.70" y2="531.30" stroke="#2e2e2e" stroke-width="1.05"/>
<line x1="173.00" y1="524.20" x2="173.00" y2="531.30" stroke="#2e2e2e" stroke-width="1.05"/>
<text transform="translate(111.34 552.80) scale(0.9282 1.0000)" font-size="17.6" fill="#1d1d1b" stroke="#1d1d1b" stroke-width="0.3">UA</text>
<text transform="translate(167.30 552.80) scale(0.8148 1.0000)" font-size="17.6" fill="#1d1d1b" stroke="#1d1d1b" stroke-width="0.3">P</text>
<text transform="translate(31.70 507.05) rotate(-90) scale(1.0633 1.0000)" font-size="17.6" fill="#1d1d1b" stroke="#1d1d1b" stroke-width="0.3">Absolute</text>
<text transform="translate(31.70 429.55) rotate(-90) scale(1.0698 1.0000)" font-size="17.6" fill="#1d1d1b" stroke="#1d1d1b" stroke-width="0.3">change</text>
<text transform="translate(52.20 492.77) rotate(-90) scale(0.9932 1.0000)" font-size="17.6" fill="#1d1d1b" stroke="#1d1d1b" stroke-width="0.3">in PBMCs (%)</text>
<text transform="translate(115.99 319.40) scale(0.9817 1.0000)" font-size="17.6" fill="#1d1d1b" stroke="#1d1d1b" stroke-width="0.3">CD8</text>
<text transform="translate(151.12 312.02) scale(0.9659 0.9833)" font-size="11" fill="#1d1d1b" stroke="#1d1d1b" stroke-width="0.3">+</text>
<text transform="translate(161.30 319.40) scale(1.0068 1.0000)" font-size="17.6" fill="#1d1d1b" stroke="#1d1d1b" stroke-width="0.3">T</text>
<text transform="translate(171.68 324.60) scale(1.0379 1.0000)" font-size="11.7" fill="#1d1d1b" stroke="#1d1d1b" stroke-width="0.3">N</text>
<text transform="translate(105.14 344.40) scale(0.9650 1.0000)" font-size="17.6" font-style="italic" fill="#1d1d1b" stroke="#1d1d1b" stroke-width="0.3">P</text>
<text transform="translate(119.54 344.17) scale(0.8049 0.9411)" font-size="17.6" fill="#1d1d1b" stroke="#1d1d1b" stroke-width="0.3">=</text>
<text transform="translate(132.48 344.40) scale(1.0943 1.0000)" font-size="17.6" fill="#1d1d1b" stroke="#1d1d1b" stroke-width="0.3">0.0408</text>
<text transform="translate(-0.04 303.77) scale(1.0875 0.9164)" font-size="25" font-weight="bold" fill="#000" stroke="#000" stroke-width="1.1" stroke-linejoin="round">e</text>
<line x1="376.05" y1="437.50" x2="481.15" y2="437.50" stroke="#1d1d1b" stroke-width="1.25" stroke-dasharray="1.6 5.30"/>
<circle cx="402.9" cy="391.1" r="2.9" fill="#87b7a6"/>
<circle cx="409.9" cy="394.7" r="2.9" fill="#87b7a6"/>
<circle cx="402.9" cy="398.7" r="2.9" fill="#87b7a6"/>
<circle cx="396.0" cy="410.5" r="2.9" fill="#87b7a6"/>
<circle cx="402.9" cy="414.5" r="2.9" fill="#87b7a6"/>
<circle cx="396.0" cy="420.4" r="2.9" fill="#87b7a6"/>
<circle cx="402.9" cy="421.3" r="2.9" fill="#87b7a6"/>
<circle cx="409.9" cy="423.1" r="2.9" fill="#87b7a6"/>
<circle cx="402.9" cy="426.8" r="2.9" fill="#87b7a6"/>
<circle cx="396.0" cy="429.5" r="2.9" fill="#87b7a6"/>
<circle cx="409.9" cy="429.8" r="2.9" fill="#87b7a6"/>
<circle cx="416.8" cy="432.5" r="2.9" fill="#87b7a6"/>
<circle cx="388.8" cy="434.0" r="2.9" fill="#87b7a6"/>
<circle cx="402.9" cy="434.4" r="2.9" fill="#87b7a6"/>
<circle cx="396.0" cy="437.1" r="2.9" fill="#87b7a6"/>
<circle cx="388.8" cy="440.7" r="2.9" fill="#87b7a6"/>
<circle cx="409.9" cy="440.7" r="2.9" fill="#87b7a6"/>
<circle cx="402.9" cy="442.5" r="2.9" fill="#87b7a6"/>
<circle cx="396.0" cy="444.8" r="2.9" fill="#87b7a6"/>
<circle cx="409.9" cy="447.4" r="2.9" fill="#87b7a6"/>
<circle cx="409.9" cy="452.4" r="2.9" fill="#87b7a6"/>
<circle cx="402.9" cy="455.7" r="2.9" fill="#87b7a6"/>
<circle cx="406.5" cy="469.1" r="2.9" fill="#87b7a6"/>
<circle cx="399.6" cy="470.9" r="2.9" fill="#87b7a6"/>
<rect x="449.90" y="354.70" width="5.4" height="5.4" fill="#e9969b"/>
<rect x="449.90" y="362.50" width="5.4" height="5.4" fill="#e9969b"/>
<rect x="449.90" y="378.20" width="5.4" height="5.4" fill="#e9969b"/>
<rect x="445.20" y="390.20" width="5.4" height="5.4" fill="#e9969b"/>
<rect x="454.40" y="388.20" width="5.4" height="5.4" fill="#e9969b"/>
<rect x="454.40" y="403.10" width="5.4" height="5.4" fill="#e9969b"/>
<rect x="445.20" y="406.70" width="5.4" height="5.4" fill="#e9969b"/>
<rect x="463.80" y="411.40" width="5.4" height="5.4" fill="#e9969b"/>
<rect x="435.80" y="415.70" width="5.4" height="5.4" fill="#e9969b"/>
<rect x="454.40" y="415.70" width="5.4" height="5.4" fill="#e9969b"/>
<rect x="445.20" y="420.80" width="5.4" height="5.4" fill="#e9969b"/>
<rect x="454.40" y="425.90" width="5.4" height="5.4" fill="#e9969b"/>
<rect x="445.20" y="428.40" width="5.4" height="5.4" fill="#e9969b"/>
<rect x="454.40" y="431.30" width="5.4" height="5.4" fill="#e9969b"/>
<rect x="445.20" y="435.30" width="5.4" height="5.4" fill="#e9969b"/>
<rect x="435.80" y="437.40" width="5.4" height="5.4" fill="#e9969b"/>
<rect x="463.80" y="439.80" width="5.4" height="5.4" fill="#e9969b"/>
<rect x="463.80" y="445.20" width="5.4" height="5.4" fill="#e9969b"/>
<rect x="435.80" y="446.70" width="5.4" height="5.4" fill="#e9969b"/>
<rect x="445.20" y="449.20" width="5.4" height="5.4" fill="#e9969b"/>
<rect x="454.40" y="448.30" width="5.4" height="5.4" fill="#e9969b"/>
<rect x="463.80" y="450.30" width="5.4" height="5.4" fill="#e9969b"/>
<rect x="445.20" y="471.10" width="5.4" height="5.4" fill="#e9969b"/>
<rect x="454.40" y="475.10" width="5.4" height="5.4" fill="#e9969b"/>
<rect x="449.90" y="492.20" width="5.4" height="5.4" fill="#e9969b"/>
<line x1="381.90" y1="431.60" x2="424.00" y2="431.60" stroke="#0a0a0a" stroke-width="1.5"/>
<line x1="402.90" y1="423.10" x2="402.90" y2="440.30" stroke="#080808" stroke-width="0.95"/>
<line x1="394.60" y1="423.10" x2="411.40" y2="423.10" stroke="#080808" stroke-width="0.95"/>
<line x1="394.60" y1="440.30" x2="411.40" y2="440.30" stroke="#080808" stroke-width="0.95"/>
<line x1="431.30" y1="427.50" x2="473.80" y2="427.50" stroke="#0a0a0a" stroke-width="1.5"/>
<line x1="452.50" y1="413.60" x2="452.50" y2="441.60" stroke="#080808" stroke-width="0.95"/>
<line x1="443.90" y1="413.60" x2="460.70" y2="413.60" stroke="#080808" stroke-width="0.95"/>
<line x1="443.90" y1="441.60" x2="460.70" y2="441.60" stroke="#080808" stroke-width="0.95"/>
<line x1="370.20" y1="349.95" x2="370.20" y2="524.50" stroke="#2e2e2e" stroke-width="1.05"/>
<line x1="363.10" y1="523.95" x2="485.80" y2="523.95" stroke="#2e2e2e" stroke-width="1.05"/>
<line x1="363.10" y1="350.50" x2="370.20" y2="350.50" stroke="#2e2e2e" stroke-width="1.05"/>
<text transform="translate(336.99 355.40) scale(0.8871 1.0000)" font-size="15.0" fill="#1d1d1b" stroke="#1d1d1b" stroke-width="0.3">1.5</text>
<line x1="363.10" y1="379.41" x2="370.20" y2="379.41" stroke="#2e2e2e" stroke-width="1.05"/>
<text transform="translate(335.82 384.31) scale(0.9449 1.0000)" font-size="15.0" fill="#1d1d1b" stroke="#1d1d1b" stroke-width="0.3">1.0</text>
<line x1="363.10" y1="408.32" x2="370.20" y2="408.32" stroke="#2e2e2e" stroke-width="1.05"/>
<text transform="translate(333.82 413.22) scale(1.0433 1.0000)" font-size="15.0" fill="#1d1d1b" stroke="#1d1d1b" stroke-width="0.3">0.5</text>
<line x1="363.10" y1="437.23" x2="370.20" y2="437.23" stroke="#2e2e2e" stroke-width="1.05"/>
<text transform="translate(345.96 442.12) scale(1.1528 1.0000)" font-size="15.0" fill="#1d1d1b" stroke="#1d1d1b" stroke-width="0.3">0</text>
<line x1="363.10" y1="466.13" x2="370.20" y2="466.13" stroke="#2e2e2e" stroke-width="1.05"/>
<text transform="translate(333.82 471.03) scale(1.0433 1.0000)" font-size="15.0" fill="#1d1d1b" stroke="#1d1d1b" stroke-width="0.3">0.5</text>
<rect x="326.80" y="465.83" width="5.6" height="1.2" fill="#1d1d1b"/>
<line x1="363.10" y1="495.04" x2="370.20" y2="495.04" stroke="#2e2e2e" stroke-width="1.05"/>
<text transform="translate(335.82 499.94) scale(0.9449 1.0000)" font-size="15.0" fill="#1d1d1b" stroke="#1d1d1b" stroke-width="0.3">1.0</text>
<rect x="329.30" y="494.74" width="5.6" height="1.2" fill="#1d1d1b"/>
<line x1="363.10" y1="523.95" x2="370.20" y2="523.95" stroke="#2e2e2e" stroke-width="1.05"/>
<text transform="translate(336.99 528.85) scale(0.8871 1.0000)" font-size="15.0" fill="#1d1d1b" stroke="#1d1d1b" stroke-width="0.3">1.5</text>
<rect x="330.40" y="523.65" width="5.6" height="1.2" fill="#1d1d1b"/>
<line x1="402.90" y1="523.95" x2="402.90" y2="531.05" stroke="#2e2e2e" stroke-width="1.05"/>
<line x1="452.50" y1="523.95" x2="452.50" y2="531.05" stroke="#2e2e2e" stroke-width="1.05"/>
<text transform="translate(390.87 552.80) scale(0.9108 1.0000)" font-size="17.6" fill="#1d1d1b" stroke="#1d1d1b" stroke-width="0.3">UA</text>
<text transform="translate(447.67 552.80) scale(0.8362 1.0000)" font-size="17.6" fill="#1d1d1b" stroke="#1d1d1b" stroke-width="0.3">P</text>
<text transform="translate(294.50 506.48) rotate(-90) scale(1.0633 1.0000)" font-size="17.6" fill="#1d1d1b" stroke="#1d1d1b" stroke-width="0.3">Absolute</text>
<text transform="translate(294.50 428.98) rotate(-90) scale(1.0698 1.0000)" font-size="17.6" fill="#1d1d1b" stroke="#1d1d1b" stroke-width="0.3">change</text>
<text transform="translate(315.20 492.20) rotate(-90) scale(0.9932 1.0000)" font-size="17.6" fill="#1d1d1b" stroke="#1d1d1b" stroke-width="0.3">in PBMCs (%)</text>
<text transform="translate(386.39 319.40) scale(0.9817 1.0000)" font-size="17.6" fill="#1d1d1b" stroke="#1d1d1b" stroke-width="0.3">CD8</text>
<text transform="translate(421.30 312.02) scale(1.0038 0.9833)" font-size="11" fill="#1d1d1b" stroke="#1d1d1b" stroke-width="0.3">+</text>
<text transform="translate(431.30 319.40) scale(1.0068 1.0000)" font-size="17.6" fill="#1d1d1b" stroke="#1d1d1b" stroke-width="0.3">T</text>
<text transform="translate(442.06 324.60) scale(1.0101 1.0000)" font-size="11.7" fill="#1d1d1b" stroke="#1d1d1b" stroke-width="0.3">SCM</text>
<text transform="translate(388.44 344.40) scale(0.9650 1.0000)" font-size="17.6" font-style="italic" fill="#1d1d1b" stroke="#1d1d1b" stroke-width="0.3">P</text>
<text transform="translate(402.84 344.17) scale(0.8049 0.9411)" font-size="17.6" fill="#1d1d1b" stroke="#1d1d1b" stroke-width="0.3">=</text>
<text transform="translate(415.87 344.40) scale(0.9661 1.0000)" font-size="17.6" fill="#1d1d1b" stroke="#1d1d1b" stroke-width="0.3">0.1942</text>
<text transform="translate(280.30 303.40) scale(0.9935 0.9370)" font-size="25" font-weight="bold" fill="#000" stroke="#000" stroke-width="1.1" stroke-linejoin="round">f</text>
<line x1="609.30" y1="437.80" x2="714.40" y2="437.80" stroke="#1d1d1b" stroke-width="1.25" stroke-dasharray="1.6 5.30"/>
<circle cx="632.9" cy="396.8" r="2.7" fill="#87b7a6"/>
<circle cx="643.2" cy="395.9" r="2.7" fill="#87b7a6"/>
<circle cx="636.4" cy="399.5" r="2.7" fill="#87b7a6"/>
<circle cx="640.0" cy="400.8" r="2.7" fill="#87b7a6"/>
<circle cx="636.4" cy="415.6" r="2.7" fill="#87b7a6"/>
<circle cx="646.9" cy="424.8" r="2.7" fill="#87b7a6"/>
<circle cx="643.2" cy="426.1" r="2.7" fill="#87b7a6"/>
<circle cx="626.1" cy="428.5" r="2.7" fill="#87b7a6"/>
<circle cx="650.5" cy="428.5" r="2.7" fill="#87b7a6"/>
<circle cx="632.9" cy="429.7" r="2.7" fill="#87b7a6"/>
<circle cx="640.0" cy="430.6" r="2.7" fill="#87b7a6"/>
<circle cx="622.4" cy="433.7" r="2.7" fill="#87b7a6"/>
<circle cx="626.1" cy="433.3" r="2.7" fill="#87b7a6"/>
<circle cx="629.7" cy="438.8" r="2.7" fill="#87b7a6"/>
<circle cx="632.9" cy="435.2" r="2.7" fill="#87b7a6"/>
<circle cx="643.2" cy="437.9" r="2.7" fill="#87b7a6"/>
<circle cx="646.9" cy="435.2" r="2.7" fill="#87b7a6"/>
<circle cx="650.5" cy="434.2" r="2.7" fill="#87b7a6"/>
<circle cx="640.0" cy="435.2" r="2.7" fill="#87b7a6"/>
<circle cx="636.4" cy="443.3" r="2.7" fill="#87b7a6"/>
<circle cx="634.6" cy="452.3" r="2.7" fill="#87b7a6"/>
<circle cx="638.2" cy="455.9" r="2.7" fill="#87b7a6"/>
<circle cx="636.4" cy="477.6" r="2.7" fill="#87b7a6"/>
<circle cx="636.4" cy="433.0" r="2.7" fill="#87b7a6"/>
<circle cx="629.0" cy="430.5" r="2.7" fill="#87b7a6"/>
<rect x="683.15" y="387.85" width="5.5" height="5.5" fill="#e9969b"/>
<rect x="683.35" y="420.65" width="5.5" height="5.5" fill="#e9969b"/>
<rect x="674.95" y="430.35" width="5.5" height="5.5" fill="#e9969b"/>
<rect x="680.45" y="431.15" width="5.5" height="5.5" fill="#e9969b"/>
<rect x="669.55" y="433.25" width="5.5" height="5.5" fill="#e9969b"/>
<rect x="674.95" y="435.45" width="5.5" height="5.5" fill="#e9969b"/>
<rect x="680.45" y="435.45" width="5.5" height="5.5" fill="#e9969b"/>
<rect x="685.95" y="434.75" width="5.5" height="5.5" fill="#e9969b"/>
<rect x="691.55" y="435.45" width="5.5" height="5.5" fill="#e9969b"/>
<rect x="697.05" y="435.45" width="5.5" height="5.5" fill="#e9969b"/>
<rect x="669.55" y="438.75" width="5.5" height="5.5" fill="#e9969b"/>
<rect x="674.95" y="438.35" width="5.5" height="5.5" fill="#e9969b"/>
<rect x="680.45" y="439.75" width="5.5" height="5.5" fill="#e9969b"/>
<rect x="685.95" y="439.35" width="5.5" height="5.5" fill="#e9969b"/>
<rect x="691.55" y="439.35" width="5.5" height="5.5" fill="#e9969b"/>
<rect x="697.05" y="438.75" width="5.5" height="5.5" fill="#e9969b"/>
<rect x="674.95" y="443.35" width="5.5" height="5.5" fill="#e9969b"/>
<rect x="680.45" y="442.65" width="5.5" height="5.5" fill="#e9969b"/>
<rect x="674.95" y="450.65" width="5.5" height="5.5" fill="#e9969b"/>
<rect x="680.45" y="452.05" width="5.5" height="5.5" fill="#e9969b"/>
<rect x="685.95" y="455.65" width="5.5" height="5.5" fill="#e9969b"/>
<rect x="691.55" y="449.15" width="5.5" height="5.5" fill="#e9969b"/>
<rect x="697.05" y="448.45" width="5.5" height="5.5" fill="#e9969b"/>
<rect x="685.95" y="450.65" width="5.5" height="5.5" fill="#e9969b"/>
<rect x="683.35" y="462.95" width="5.5" height="5.5" fill="#e9969b"/>
<rect x="683.35" y="468.65" width="5.5" height="5.5" fill="#e9969b"/>
<rect x="683.25" y="498.55" width="5.5" height="5.5" fill="#e9969b"/>
<line x1="615.20" y1="430.30" x2="657.70" y2="430.30" stroke="#0a0a0a" stroke-width="1.5"/>
<line x1="636.40" y1="422.90" x2="636.40" y2="438.20" stroke="#080808" stroke-width="0.95"/>
<line x1="627.90" y1="422.90" x2="644.70" y2="422.90" stroke="#080808" stroke-width="0.95"/>
<line x1="627.90" y1="438.20" x2="644.70" y2="438.20" stroke="#080808" stroke-width="0.95"/>
<line x1="664.90" y1="445.40" x2="707.10" y2="445.40" stroke="#0a0a0a" stroke-width="1.5"/>
<line x1="686.00" y1="437.80" x2="686.00" y2="453.10" stroke="#080808" stroke-width="0.95"/>
<line x1="677.80" y1="437.80" x2="694.40" y2="437.80" stroke="#080808" stroke-width="0.95"/>
<line x1="677.80" y1="453.10" x2="694.40" y2="453.10" stroke="#080808" stroke-width="0.95"/>
<line x1="603.45" y1="350.45" x2="603.45" y2="525.05" stroke="#2e2e2e" stroke-width="1.05"/>
<line x1="596.35" y1="524.50" x2="719.30" y2="524.50" stroke="#2e2e2e" stroke-width="1.05"/>
<line x1="596.35" y1="351.00" x2="603.45" y2="351.00" stroke="#2e2e2e" stroke-width="1.05"/>
<text transform="translate(580.23 355.90) scale(1.0870 1.0000)" font-size="15.0" fill="#1d1d1b" stroke="#1d1d1b" stroke-width="0.3">2</text>
<line x1="596.35" y1="394.38" x2="603.45" y2="394.38" stroke="#2e2e2e" stroke-width="1.05"/>
<text transform="translate(582.86 399.27) scale(0.7442 1.0000)" font-size="15.0" fill="#1d1d1b" stroke="#1d1d1b" stroke-width="0.3">1</text>
<line x1="596.35" y1="437.75" x2="603.45" y2="437.75" stroke="#2e2e2e" stroke-width="1.05"/>
<text transform="translate(579.56 442.65) scale(1.1528 1.0000)" font-size="15.0" fill="#1d1d1b" stroke="#1d1d1b" stroke-width="0.3">0</text>
<line x1="596.35" y1="481.12" x2="603.45" y2="481.12" stroke="#2e2e2e" stroke-width="1.05"/>
<text transform="translate(582.86 486.02) scale(0.7442 1.0000)" font-size="15.0" fill="#1d1d1b" stroke="#1d1d1b" stroke-width="0.3">1</text>
<rect x="576.10" y="480.82" width="5.6" height="1.2" fill="#1d1d1b"/>
<line x1="596.35" y1="524.50" x2="603.45" y2="524.50" stroke="#2e2e2e" stroke-width="1.05"/>
<text transform="translate(580.23 529.40) scale(1.0870 1.0000)" font-size="15.0" fill="#1d1d1b" stroke="#1d1d1b" stroke-width="0.3">2</text>
<rect x="573.40" y="524.20" width="5.6" height="1.2" fill="#1d1d1b"/>
<line x1="636.40" y1="524.50" x2="636.40" y2="531.60" stroke="#2e2e2e" stroke-width="1.05"/>
<line x1="686.00" y1="524.50" x2="686.00" y2="531.60" stroke="#2e2e2e" stroke-width="1.05"/>
<text transform="translate(624.36 552.80) scale(0.9195 1.0000)" font-size="17.6" fill="#1d1d1b" stroke="#1d1d1b" stroke-width="0.3">UA</text>
<text transform="translate(680.72 552.80) scale(0.8040 1.0000)" font-size="17.6" fill="#1d1d1b" stroke="#1d1d1b" stroke-width="0.3">P</text>
<text transform="translate(541.70 507.00) rotate(-90) scale(1.0633 1.0000)" font-size="17.6" fill="#1d1d1b" stroke="#1d1d1b" stroke-width="0.3">Absolute</text>
<text transform="translate(541.70 429.50) rotate(-90) scale(1.0698 1.0000)" font-size="17.6" fill="#1d1d1b" stroke="#1d1d1b" stroke-width="0.3">change</text>
<text transform="translate(561.70 482.70) rotate(-90) scale(1.0127 1.0000)" font-size="17.6" fill="#1d1d1b" stroke="#1d1d1b" stroke-width="0.3">in CD8</text>
<text transform="translate(553.08 426.68) rotate(-90) scale(1.1364 0.8349)" font-size="11" fill="#1d1d1b" stroke="#1d1d1b" stroke-width="0.3">+</text>
<text transform="translate(561.70 417.61) rotate(-90) scale(0.9059 1.0000)" font-size="17.6" fill="#1d1d1b" stroke="#1d1d1b" stroke-width="0.3">(%)</text>
<text transform="translate(637.42 324.60) scale(1.0124 1.0000)" font-size="17.6" fill="#1d1d1b" stroke="#1d1d1b" stroke-width="0.3">Ki-67</text>
<text transform="translate(678.64 317.19) scale(0.9280 0.9462)" font-size="11" fill="#1d1d1b" stroke="#1d1d1b" stroke-width="0.3">+</text>
<text transform="translate(618.84 344.50) scale(0.9650 1.0000)" font-size="17.6" font-style="italic" fill="#1d1d1b" stroke="#1d1d1b" stroke-width="0.3">P</text>
<text transform="translate(633.24 344.27) scale(0.8049 0.9411)" font-size="17.6" fill="#1d1d1b" stroke="#1d1d1b" stroke-width="0.3">=</text>
<text transform="translate(646.19 344.50) scale(1.0847 1.0000)" font-size="17.6" fill="#1d1d1b" stroke="#1d1d1b" stroke-width="0.3">0.0062</text>
<text transform="translate(526.65 303.57) scale(1.0480 0.9013)" font-size="25" font-weight="bold" fill="#000" stroke="#000" stroke-width="1.1" stroke-linejoin="round">g</text>
<line x1="846.65" y1="437.20" x2="951.75" y2="437.20" stroke="#1d1d1b" stroke-width="1.25" stroke-dasharray="1.6 5.30"/>
<circle cx="877.2" cy="424.9" r="2.7" fill="#87b7a6"/>
<circle cx="870.3" cy="426.7" r="2.7" fill="#87b7a6"/>
<circle cx="866.7" cy="430.1" r="2.7" fill="#87b7a6"/>
<circle cx="887.6" cy="433.0" r="2.7" fill="#87b7a6"/>
<circle cx="859.5" cy="436.4" r="2.7" fill="#87b7a6"/>
<circle cx="863.1" cy="436.1" r="2.7" fill="#87b7a6"/>
<circle cx="870.3" cy="434.7" r="2.7" fill="#87b7a6"/>
<circle cx="873.9" cy="434.7" r="2.7" fill="#87b7a6"/>
<circle cx="880.4" cy="436.1" r="2.7" fill="#87b7a6"/>
<circle cx="866.7" cy="438.3" r="2.7" fill="#87b7a6"/>
<circle cx="870.3" cy="439.0" r="2.7" fill="#87b7a6"/>
<circle cx="887.6" cy="439.0" r="2.7" fill="#87b7a6"/>
<circle cx="884.0" cy="440.5" r="2.7" fill="#87b7a6"/>
<circle cx="880.4" cy="441.9" r="2.7" fill="#87b7a6"/>
<circle cx="866.7" cy="444.8" r="2.7" fill="#87b7a6"/>
<circle cx="870.3" cy="446.3" r="2.7" fill="#87b7a6"/>
<circle cx="877.5" cy="447.0" r="2.7" fill="#87b7a6"/>
<circle cx="880.4" cy="444.1" r="2.7" fill="#87b7a6"/>
<circle cx="873.9" cy="452.0" r="2.7" fill="#87b7a6"/>
<circle cx="877.2" cy="465.1" r="2.7" fill="#87b7a6"/>
<circle cx="873.9" cy="469.4" r="2.7" fill="#87b7a6"/>
<circle cx="873.8" cy="493.0" r="2.7" fill="#87b7a6"/>
<circle cx="875.0" cy="438.0" r="2.7" fill="#87b7a6"/>
<circle cx="873.0" cy="443.0" r="2.7" fill="#87b7a6"/>
<circle cx="868.0" cy="441.5" r="2.7" fill="#87b7a6"/>
<rect x="920.70" y="381.70" width="5.2" height="5.2" fill="#e9969b"/>
<rect x="919.60" y="407.00" width="5.2" height="5.2" fill="#e9969b"/>
<rect x="922.20" y="409.00" width="5.2" height="5.2" fill="#e9969b"/>
<rect x="922.20" y="412.00" width="5.2" height="5.2" fill="#e9969b"/>
<rect x="921.30" y="424.90" width="5.2" height="5.2" fill="#e9969b"/>
<rect x="906.90" y="430.90" width="5.2" height="5.2" fill="#e9969b"/>
<rect x="911.60" y="430.90" width="5.2" height="5.2" fill="#e9969b"/>
<rect x="916.30" y="430.90" width="5.2" height="5.2" fill="#e9969b"/>
<rect x="921.00" y="430.90" width="5.2" height="5.2" fill="#e9969b"/>
<rect x="925.70" y="430.90" width="5.2" height="5.2" fill="#e9969b"/>
<rect x="930.40" y="430.90" width="5.2" height="5.2" fill="#e9969b"/>
<rect x="935.10" y="430.90" width="5.2" height="5.2" fill="#e9969b"/>
<rect x="909.40" y="433.90" width="5.2" height="5.2" fill="#e9969b"/>
<rect x="914.40" y="433.90" width="5.2" height="5.2" fill="#e9969b"/>
<rect x="919.40" y="433.90" width="5.2" height="5.2" fill="#e9969b"/>
<rect x="924.40" y="433.90" width="5.2" height="5.2" fill="#e9969b"/>
<rect x="929.40" y="433.90" width="5.2" height="5.2" fill="#e9969b"/>
<rect x="933.40" y="433.90" width="5.2" height="5.2" fill="#e9969b"/>
<rect x="913.40" y="437.40" width="5.2" height="5.2" fill="#e9969b"/>
<rect x="918.40" y="437.40" width="5.2" height="5.2" fill="#e9969b"/>
<rect x="923.40" y="437.40" width="5.2" height="5.2" fill="#e9969b"/>
<rect x="928.40" y="437.40" width="5.2" height="5.2" fill="#e9969b"/>
<rect x="918.40" y="440.90" width="5.2" height="5.2" fill="#e9969b"/>
<rect x="922.40" y="440.90" width="5.2" height="5.2" fill="#e9969b"/>
<rect x="920.60" y="446.60" width="5.2" height="5.2" fill="#e9969b"/>
<rect x="922.00" y="451.60" width="5.2" height="5.2" fill="#e9969b"/>
<rect x="919.40" y="453.80" width="5.2" height="5.2" fill="#e9969b"/>
<line x1="852.90" y1="443.50" x2="894.90" y2="443.50" stroke="#0a0a0a" stroke-width="1.5"/>
<line x1="873.80" y1="437.40" x2="873.80" y2="449.80" stroke="#080808" stroke-width="0.95"/>
<line x1="865.30" y1="437.40" x2="882.30" y2="437.40" stroke="#080808" stroke-width="0.95"/>
<line x1="865.30" y1="449.80" x2="882.30" y2="449.80" stroke="#080808" stroke-width="0.95"/>
<line x1="902.30" y1="432.90" x2="944.70" y2="432.90" stroke="#0a0a0a" stroke-width="1.5"/>
<line x1="923.60" y1="426.50" x2="923.60" y2="439.00" stroke="#080808" stroke-width="0.95"/>
<line x1="915.10" y1="426.50" x2="932.00" y2="426.50" stroke="#080808" stroke-width="0.95"/>
<line x1="915.10" y1="439.00" x2="932.00" y2="439.00" stroke="#080808" stroke-width="0.95"/>
<line x1="840.80" y1="349.85" x2="840.80" y2="524.35" stroke="#2e2e2e" stroke-width="1.05"/>
<line x1="833.70" y1="523.80" x2="956.70" y2="523.80" stroke="#2e2e2e" stroke-width="1.05"/>
<line x1="833.70" y1="350.40" x2="840.80" y2="350.40" stroke="#2e2e2e" stroke-width="1.05"/>
<text transform="translate(808.55 355.30) scale(1.0654 1.0000)" font-size="15.0" fill="#1d1d1b" stroke="#1d1d1b" stroke-width="0.3">20</text>
<line x1="833.70" y1="393.75" x2="840.80" y2="393.75" stroke="#2e2e2e" stroke-width="1.05"/>
<text transform="translate(810.52 398.65) scale(0.9428 1.0000)" font-size="15.0" fill="#1d1d1b" stroke="#1d1d1b" stroke-width="0.3">10</text>
<line x1="833.70" y1="437.10" x2="840.80" y2="437.10" stroke="#2e2e2e" stroke-width="1.05"/>
<text transform="translate(816.66 442.00) scale(1.1528 1.0000)" font-size="15.0" fill="#1d1d1b" stroke="#1d1d1b" stroke-width="0.3">0</text>
<line x1="833.70" y1="480.45" x2="840.80" y2="480.45" stroke="#2e2e2e" stroke-width="1.05"/>
<text transform="translate(810.52 485.35) scale(0.9428 1.0000)" font-size="15.0" fill="#1d1d1b" stroke="#1d1d1b" stroke-width="0.3">10</text>
<rect x="804.00" y="480.15" width="5.6" height="1.2" fill="#1d1d1b"/>
<line x1="833.70" y1="523.80" x2="840.80" y2="523.80" stroke="#2e2e2e" stroke-width="1.05"/>
<text transform="translate(808.55 528.70) scale(1.0654 1.0000)" font-size="15.0" fill="#1d1d1b" stroke="#1d1d1b" stroke-width="0.3">20</text>
<rect x="801.70" y="523.50" width="5.6" height="1.2" fill="#1d1d1b"/>
<line x1="873.80" y1="523.80" x2="873.80" y2="530.90" stroke="#2e2e2e" stroke-width="1.05"/>
<line x1="923.60" y1="523.80" x2="923.60" y2="530.90" stroke="#2e2e2e" stroke-width="1.05"/>
<text transform="translate(862.16 552.80) scale(0.9152 1.0000)" font-size="17.6" fill="#1d1d1b" stroke="#1d1d1b" stroke-width="0.3">UA</text>
<text transform="translate(918.22 552.80) scale(0.8040 1.0000)" font-size="17.6" fill="#1d1d1b" stroke="#1d1d1b" stroke-width="0.3">P</text>
<text transform="translate(767.80 506.35) rotate(-90) scale(1.0633 1.0000)" font-size="17.6" fill="#1d1d1b" stroke="#1d1d1b" stroke-width="0.3">Absolute</text>
<text transform="translate(767.80 428.85) rotate(-90) scale(1.0698 1.0000)" font-size="17.6" fill="#1d1d1b" stroke="#1d1d1b" stroke-width="0.3">change</text>
<text transform="translate(788.50 482.70) rotate(-90) scale(1.0127 1.0000)" font-size="17.6" fill="#1d1d1b" stroke="#1d1d1b" stroke-width="0.3">in CD8</text>
<text transform="translate(779.88 426.68) rotate(-90) scale(1.1364 0.8349)" font-size="11" fill="#1d1d1b" stroke="#1d1d1b" stroke-width="0.3">+</text>
<text transform="translate(788.50 417.61) rotate(-90) scale(0.9059 1.0000)" font-size="17.6" fill="#1d1d1b" stroke="#1d1d1b" stroke-width="0.3">(%)</text>
<text transform="translate(881.10 324.40) scale(0.8480 1.0000)" font-size="17.6" fill="#1d1d1b" stroke="#1d1d1b" stroke-width="0.3">TOX</text>
<text transform="translate(912.10 318.09) scale(1.0038 0.9462)" font-size="11" fill="#1d1d1b" stroke="#1d1d1b" stroke-width="0.3">+</text>
<text transform="translate(859.34 344.40) scale(0.9650 1.0000)" font-size="17.6" font-style="italic" fill="#1d1d1b" stroke="#1d1d1b" stroke-width="0.3">P</text>
<text transform="translate(873.74 344.17) scale(0.8049 0.9411)" font-size="17.6" fill="#1d1d1b" stroke="#1d1d1b" stroke-width="0.3">=</text>
<text transform="translate(886.78 344.40) scale(0.9451 1.0000)" font-size="17.6" fill="#1d1d1b" stroke="#1d1d1b" stroke-width="0.3">0.0161</text>
<text transform="translate(753.41 303.45) scale(1.0250 0.9233)" font-size="25" font-weight="bold" fill="#000" stroke="#000" stroke-width="1.1" stroke-linejoin="round">h</text>
</svg>
</body></html>
